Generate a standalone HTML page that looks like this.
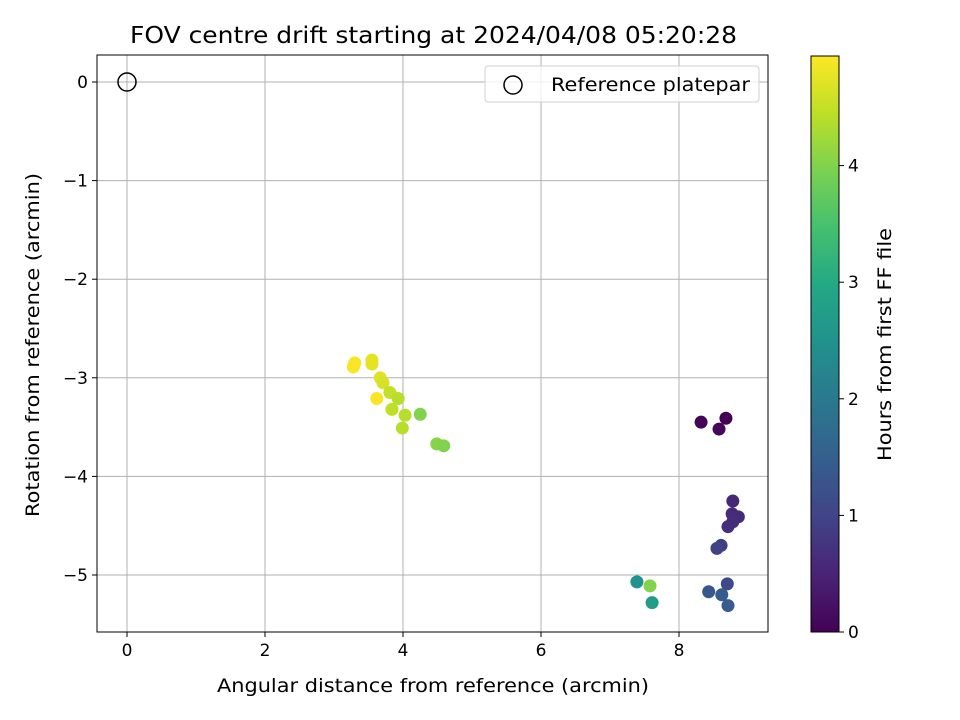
<!DOCTYPE html>
<html><head><meta charset="utf-8"><style>
body{margin:0;background:#fff}
svg{display:block;font-family:"DejaVu Sans","Liberation Sans",sans-serif}
</style></head><body>
<svg id="chart" width="960" height="720">
<defs>
<linearGradient id="vir" x1="0" y1="1" x2="0" y2="0">
<stop offset="0" stop-color="#440154"/><stop offset="0.1" stop-color="#482475"/><stop offset="0.2" stop-color="#414487"/><stop offset="0.3" stop-color="#355f8d"/><stop offset="0.4" stop-color="#2a788e"/><stop offset="0.5" stop-color="#21918c"/><stop offset="0.6" stop-color="#22a884"/><stop offset="0.7" stop-color="#44bf70"/><stop offset="0.8" stop-color="#7ad151"/><stop offset="0.9" stop-color="#bddf26"/><stop offset="1" stop-color="#fde725"/>
</linearGradient>
</defs>
</svg>
<script>
const xVals=[3.30,3.28,3.55,3.55,3.67,3.71,3.81,3.62,3.93,3.84,4.03,4.25,3.99,4.49,4.59,8.32,8.68,8.58,8.78,8.77,8.86,8.78,8.71,8.61,8.55,8.70,8.43,8.62,8.71,7.39,7.58,7.61];
const yVals=[-2.85,-2.89,-2.86,-2.82,-3.00,-3.05,-3.15,-3.21,-3.21,-3.32,-3.38,-3.37,-3.51,-3.67,-3.69,-3.45,-3.41,-3.52,-4.25,-4.38,-4.41,-4.46,-4.51,-4.70,-4.73,-5.09,-5.17,-5.20,-5.31,-5.07,-5.11,-5.28];
const hours=[4.9,4.9,4.75,4.75,4.7,4.65,4.5,4.9,4.4,4.45,4.4,4.0,4.4,4.05,4.0,0.05,0.02,0.08,0.55,0.6,0.6,0.65,0.65,0.9,0.95,1.1,1.35,1.4,1.4,2.5,4.0,2.7];
const xTicks=[0,2,4,6,8];
const yTicks=[0,-1,-2,-3,-4,-5];
const cTicks=[0,1,2,3,4];
const L=97,T=55,R=768,B=632;
const X=v=>127+v*69, Y=v=>82-v*98.6;
const hMax=4.94, C=h=>632-h*(576/hMax);
const ns="http://www.w3.org/2000/svg", svg=document.getElementById('chart');
function el(t,a,txt){const e=document.createElementNS(ns,t);for(const k in a)e.setAttribute(k,a[k]);if(txt!==undefined)e.textContent=txt;svg.appendChild(e);return e;}
const stops=[[68,1,84],[72,36,117],[65,68,135],[53,95,141],[42,120,142],[33,145,140],[34,168,132],[68,191,112],[122,209,81],[189,223,38],[253,231,37]];
function vir(t){t=Math.max(0,Math.min(1,t))*10;const i=Math.min(9,Math.floor(t)),f=t-i,a=stops[i],b=stops[i+1];return `rgb(${a.map((v,k)=>Math.round(v+(b[k]-v)*f)).join(',')})`;}
xTicks.forEach(v=>{const g=el('line',{x1:X(v),x2:X(v),y1:T,y2:B,stroke:'#b0b0b0','stroke-width':1});

const t=el('line',{x1:X(v),x2:X(v),y1:B,y2:B+5,stroke:'#000'});
const l=el('text',{x:X(v),y:B+24,'text-anchor':'middle','font-size':17},String(v));});
yTicks.forEach(v=>{const g=el('line',{x1:L,x2:R,y1:Y(v),y2:Y(v),stroke:'#b0b0b0','stroke-width':1});

const t=el('line',{x1:L-5,x2:L,y1:Y(v),y2:Y(v),stroke:'#000'});
const l=el('text',{x:L-9,y:Y(v)+6,'text-anchor':'end','font-size':17},v<0?'\u2212'+(-v):String(v));});
const ref=el('circle',{cx:X(0),cy:Y(0),r:9,fill:'none',stroke:'#000','stroke-width':1.5});

xVals.forEach((v,i)=>{const c=el('circle',{cx:X(v),cy:Y(yVals[i]),r:6.5,fill:vir(hours[i]/hMax)});
});
const fr=el('rect',{x:L,y:T,width:R-L,height:B-T,fill:'none',stroke:'#000','stroke-width':1});

const lg=el('rect',{x:485,y:66,width:274,height:36,rx:3,fill:'#fff','fill-opacity':0.8,stroke:'#d0d0d0'});

const lc=el('circle',{cx:513,cy:85,r:9,fill:'none',stroke:'#000','stroke-width':1.5});

const lt=el('text',{x:551,y:91,'font-size':19,textLength:199,lengthAdjust:'spacingAndGlyphs'},'Reference platepar');

const ti=el('text',{x:130,y:43,'font-size':23,textLength:607,lengthAdjust:'spacingAndGlyphs'},'FOV centre drift starting at 2024/04/08 05:20:28');

const xt=el('text',{x:217,y:692,'font-size':19,textLength:432,lengthAdjust:'spacingAndGlyphs'},'Angular distance from reference (arcmin)');

const yt=el('text',{x:-517,y:39,'font-size':19,transform:'rotate(-90)',textLength:344,lengthAdjust:'spacingAndGlyphs'},'Rotation from reference (arcmin)');

const cb=el('rect',{x:811,y:56,width:28,height:576,fill:'url(#vir)',stroke:'#000','stroke-width':1});

cTicks.forEach(h=>{const t=el('line',{x1:839,x2:844,y1:C(h),y2:C(h),stroke:'#000'});
const l=el('text',{x:848,y:C(h)+6,'font-size':17},String(h));});
const ct=el('text',{x:-461,y:891,'font-size':19,transform:'rotate(-90)',textLength:233,lengthAdjust:'spacingAndGlyphs'},'Hours from first FF file');

</script>
</body></html>
